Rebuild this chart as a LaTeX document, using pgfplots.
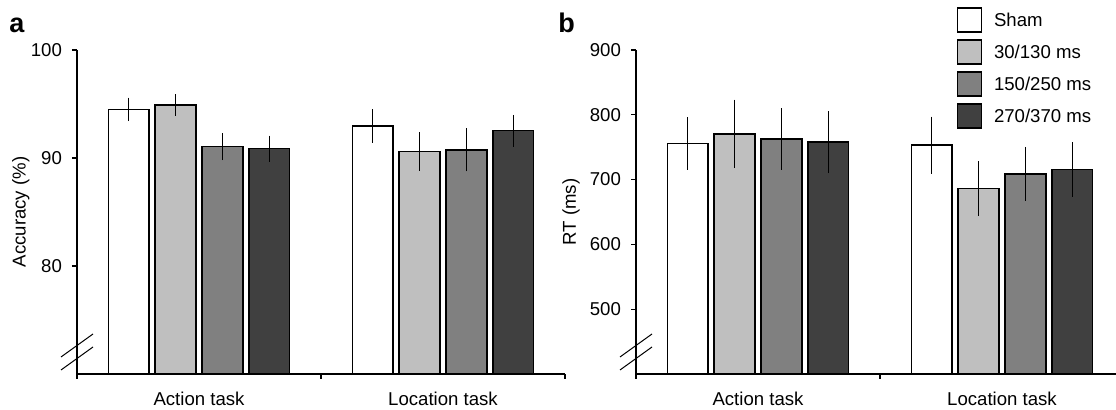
\documentclass[border=0pt]{standalone}
\usepackage{fontspec}
\setmainfont{Liberation Sans}
\usepackage{pgfplots}
\pgfplotsset{compat=1.18}

\definecolor{c1}{gray}{1.0}
\definecolor{c2}{HTML}{BFBFBF}
\definecolor{c3}{HTML}{808080}
\definecolor{c4}{HTML}{404040}

\pgfplotsset{
  panel/.style={
    scale only axis, width=244pt, height=162pt,
    xmin=0, xmax=2,
    axis lines*=left, axis on top,
    axis line style={line width=0.6pt},
    tick align=outside, major tick length=2.5pt,
    tick style={line width=0.6pt, black},
    xtick={0,1,2}, xticklabels={},
    extra x ticks={0.5,1.5},
    extra x tick labels={Action task, Location task},
    extra x tick style={major tick length=0pt, tick label style={yshift=-5.5pt}},
    yticklabel style={xshift=-1.5pt},
    /pgf/number format/assume math mode=true,
    font=\fontsize{9.3}{11}\selectfont,
    tick label style={font=\fontsize{9.3}{11}\selectfont},
    ybar, bar width=0.167,
    error bars/y dir=both, error bars/y explicit,
    error bars/error mark=none,
    error bars/error bar style={line width=0.65pt, black},
    legend image code/.code={\draw[#1] (0pt,-5.4pt) rectangle (12pt,6.6pt);},
  },
  s1/.style={draw=black, line width=0.75pt, fill=c1, bar shift=-0.288},
  s2/.style={draw=black, line width=0.75pt, fill=c2, bar shift=-0.096},
  s3/.style={draw=black, line width=0.75pt, fill=c3, bar shift=0.096},
  s4/.style={draw=black, line width=0.75pt, fill=c4, bar shift=0.288},
}

\begin{document}
\begin{tikzpicture}
\useasboundingbox (-38.5pt,-18pt) rectangle (519.5pt,187pt);

% panel a: accuracy
\begin{axis}[panel, name=pa, at={(0pt,0pt)},
  ymin=70, ymax=100, ytick={80,90,100},
  ylabel={Accuracy (\%)},
  ylabel style={at={(axis description cs:-0.115,0.5)}, anchor=center}]
\addplot[s1] coordinates {(0.5,94.5) +- (0,1.08) (1.5,92.96) +- (0,1.57)};
\addplot[s2] coordinates {(0.5,94.9) +- (0,1.0) (1.5,90.6) +- (0,1.8)};
\addplot[s3] coordinates {(0.5,91.05) +- (0,1.25) (1.5,90.75) +- (0,2.0)};
\addplot[s4] coordinates {(0.5,90.86) +- (0,1.2) (1.5,92.53) +- (0,1.47)};
\end{axis}

% panel b: reaction time
\begin{axis}[panel, name=pb, at={(279.5pt,0pt)},
  ymin=400, ymax=900, ytick={500,600,700,800,900},
  ylabel={RT (ms)},
  ylabel style={at={(axis description cs:-0.133,0.5)}, anchor=center},
  legend style={at={(axis description cs:0.656,1.133)}, anchor=north west,
    draw=none, fill=none, inner sep=0pt, row sep=3.2pt, column sep=6pt,
    font=\fontsize{9.3}{11}\selectfont, nodes={inner sep=0pt}},
  legend cell align=left]
\addplot[s1] coordinates {(0.5,755.7) +- (0,40.3) (1.5,753.1) +- (0,44.2)};
\addplot[s2] coordinates {(0.5,770.6) +- (0,53.0) (1.5,685.9) +- (0,42.4)};
\addplot[s3] coordinates {(0.5,762.9) +- (0,47.5) (1.5,709.0) +- (0,41.3)};
\addplot[s4] coordinates {(0.5,757.8) +- (0,47.8) (1.5,715.7) +- (0,41.8)};
\legend{Sham,30/130 ms,150/250 ms,270/370 ms}
\end{axis}

% axis break marks
\foreach \ax in {pa,pb}{
  \draw[line width=0.5pt] ([shift={(-8pt,8.5pt)}]\ax.origin) -- ++(16pt,11.5pt);
  \draw[line width=0.5pt] ([shift={(-8pt,2pt)}]\ax.origin) -- ++(16pt,11.5pt);
}

% panel letters
\node[anchor=base west, inner sep=0pt, font=\fontsize{13.5}{13.5}\selectfont\bfseries] at (-34pt,170.5pt) {a};
\node[anchor=base west, inner sep=0pt, font=\fontsize{13.5}{13.5}\selectfont\bfseries] at (240.5pt,170.5pt) {b};
\end{tikzpicture}
\end{document}
